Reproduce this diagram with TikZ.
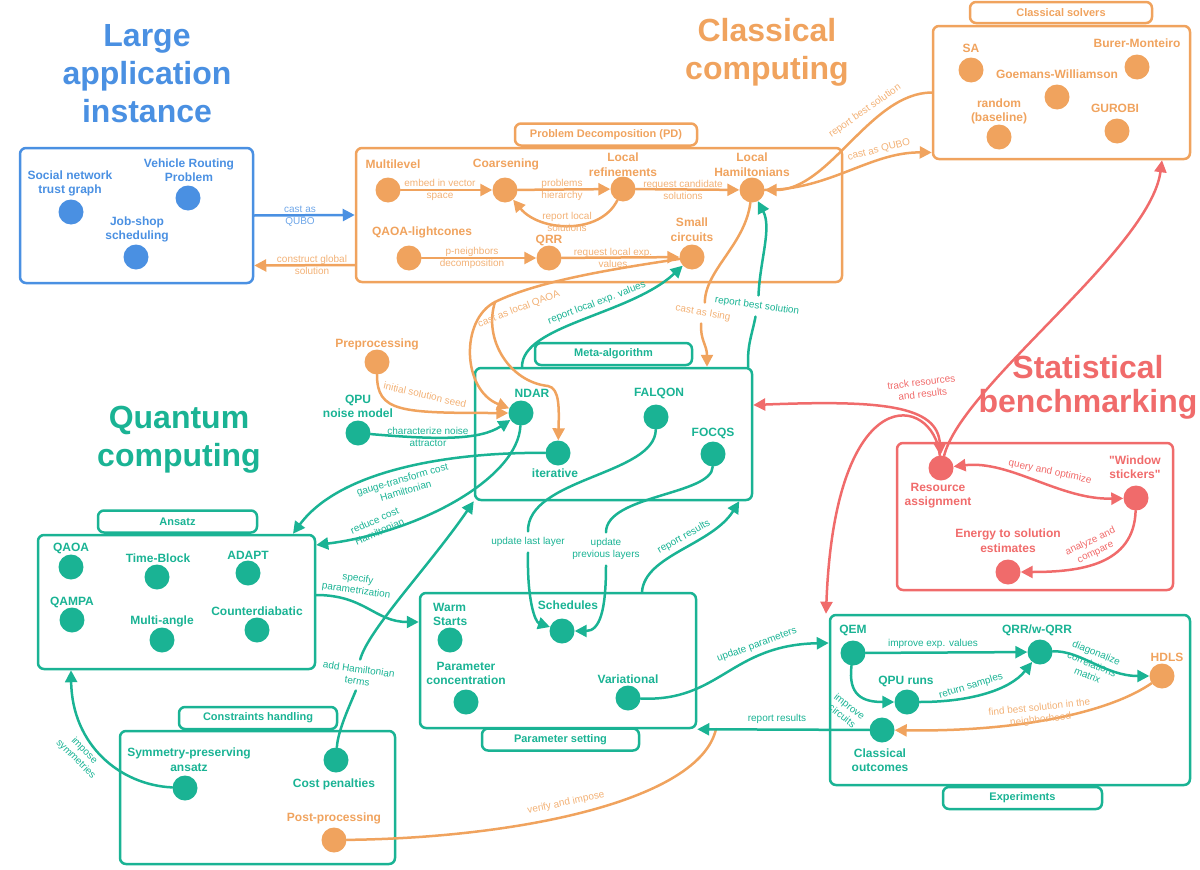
\documentclass[tikz,border=0pt]{standalone}
\usepackage{fontspec}
\setmainfont{Liberation Sans}[Ligatures=TeXOff]
\usepackage{tikz}
\usetikzlibrary{arrows.meta}
\usepackage{xcolor}
\definecolor{app_blue}{HTML}{4A90E2}
\definecolor{cc_orange}{HTML}{F0A35E}
\definecolor{qc_teal}{HTML}{1AB394}
\definecolor{sb_red}{HTML}{F06B6B}

\begin{document}
\begin{tikzpicture}[
    x=1pt, y=-1pt,
    dot/.style={circle, fill=#1, minimum size=25pt, inner sep=0pt},
    dotlbl/.style={text=#1, font=\bfseries\fontsize{12}{14.5}\selectfont, align=center, inner sep=0pt},
    edgelbl/.style={text=#1, font=\fontsize{10}{12}\selectfont, align=center, inner sep=1pt},
    headline/.style={text=#1, font=\bfseries\fontsize{32}{38}\selectfont, align=center},
    area/.style={draw=#1, line width=2.5pt, rounded corners=6pt, inner sep=0pt},
    tab/.style={area=#1, text=#1, font=\bfseries\fontsize{11}{13}\selectfont, minimum height=22pt},
    arr/.style={draw=#1, line width=2.5pt, line cap=round, -{Triangle[length=12pt,width=12pt]}},
    darr/.style={draw=#1, line width=2.5pt, line cap=round, {Triangle[length=12pt,width=12pt]}-{Triangle[length=12pt,width=12pt]}},
    wire/.style={draw=#1, line width=2.5pt, line cap=round},
    lblgap/.style={outer sep=5pt}
]
\useasboundingbox (0,0) rectangle (1200,870);

% boxes
\node[area=app_blue, minimum width=233pt, minimum height=135pt] (app) at (136.5,215.5) {};
\node[area=cc_orange, minimum width=486pt, minimum height=134pt] (pd) at (599,215) {};
\node[tab=cc_orange, minimum width=182pt] (pd-tab) at (606,134.5) {Problem Decomposition (PD)};
\node[area=cc_orange, minimum width=257pt, minimum height=133pt] (cs) at (1061.5,92.5) {};
\node[tab=cc_orange, minimum width=182pt, minimum height=21pt] (cs-tab) at (1061,12.5) {Classical solvers};
\node[area=qc_teal, minimum width=277pt, minimum height=132pt] (meta) at (613.5,434) {};
\node[tab=qc_teal, minimum width=157pt] (meta-tab) at (613.5,354) {Meta-algorithm};
\node[area=qc_teal, minimum width=277pt, minimum height=134pt] (ansatz) at (176.5,602) {};
\node[tab=qc_teal, minimum width=159pt] (ansatz-tab) at (177.5,521.5) {Ansatz};
\node[area=qc_teal, minimum width=276pt, minimum height=135pt] (param) at (558,660.5) {};
\node[tab=qc_teal, minimum width=157pt] (param-tab) at (560.5,739.5) {Parameter setting};
\node[area=qc_teal, minimum width=275pt, minimum height=133pt] (constr) at (257.5,797.5) {};
\node[tab=qc_teal, minimum width=158pt] (constr-tab) at (258,718) {Constraints handling};
\node[area=sb_red, minimum width=276pt, minimum height=147pt] (bench) at (1035,516.5) {};
\node[area=qc_teal, minimum width=360pt, minimum height=170pt] (expt) at (1010,700) {};
\node[tab=qc_teal, minimum width=159pt] (expt-tab) at (1022.5,798) {Experiments};

% titles
\node[headline=app_blue] (t-app) at (147,74) {Large\\application\\instance};
\node[headline=cc_orange] (t-cc) at (767,52) {Classical\\computing};
\node[headline=qc_teal] (t-qc) at (179,440) {Quantum\\computing};
\node[headline=sb_red, font=\bfseries\fontsize{32}{34}\selectfont] (t-sb) at (1088,387) {Statistical\\benchmarking};

% large application instance
\node[dot=app_blue] (social) at (71,212) {};
\node[dotlbl=app_blue] (social-t) at (70,183.5) {Social network\\trust graph};
\node[dot=app_blue] (vrp) at (188,198) {};
\node[dotlbl=app_blue] (vrp-t) at (189,170) {Vehicle Routing\\Problem};
\node[dot=app_blue] (jobshop) at (136,257) {};
\node[dotlbl=app_blue] (jobshop-t) at (137,229.5) {Job-shop\\scheduling};

% problem decomposition
\node[dot=cc_orange] (multilevel) at (388,190) {};
\node[dotlbl=cc_orange] (multilevel-t) at (393,164) {Multilevel};
\node[dot=cc_orange] (coarsening) at (505,190) {};
\node[dotlbl=cc_orange] (coarsening-t) at (506,164) {Coarsening};
\node[dot=cc_orange] (locref) at (623,189) {};
\node[dotlbl=cc_orange] (locref-t) at (623,164.5) {Local\\refinements};
\node[dot=cc_orange] (lochamil) at (752,190) {};
\node[dotlbl=cc_orange] (lochamil-t) at (752,164.5) {Local\\Hamiltonians};
\node[dot=cc_orange] (lightcones) at (409,258) {};
\node[dotlbl=cc_orange] (lightcones-t) at (422,232) {QAOA-lightcones};
\node[dot=cc_orange] (qrr) at (549,258) {};
\node[dotlbl=cc_orange] (qrr-t) at (549,240) {QRR};
\node[dot=cc_orange] (smallcirc) at (692,257) {};
\node[dotlbl=cc_orange] (smallcirc-t) at (692,229.5) {Small\\circuits};

% classical solvers
\node[dot=cc_orange] (sa) at (971,70) {};
\node[dotlbl=cc_orange] (sa-t) at (971,48) {SA};
\node[dot=cc_orange] (burer) at (1137,67) {};
\node[dotlbl=cc_orange] (burer-t) at (1137,43) {Burer-Monteiro};
\node[dot=cc_orange] (goemans) at (1057,97) {};
\node[dotlbl=cc_orange] (goemans-t) at (1057,74) {Goemans-Williamson};
\node[dot=cc_orange] (random) at (999,137) {};
\node[dotlbl=cc_orange] (random-t) at (999,111.5) {random\\(baseline)};
\node[dot=cc_orange] (gurobi) at (1117,131) {};
\node[dotlbl=cc_orange] (gurobi-t) at (1115,108) {GUROBI};

% meta-algorithm
\node[dot=qc_teal] (ndar) at (521,413) {};
\node[dotlbl=qc_teal] (ndar-t) at (532,393) {NDAR};
\node[dot=qc_teal] (iterative) at (558,453) {};
\node[dotlbl=qc_teal] (iterative-t) at (555,473) {iterative};
\node[dot=qc_teal] (falqon) at (656,417) {};
\node[dotlbl=qc_teal] (falqon-t) at (659,393) {FALQON};
\node[dot=qc_teal] (focqs) at (713,454) {};
\node[dotlbl=qc_teal] (focqs-t) at (713,433) {FOCQS};
\node[dot=cc_orange] (prep) at (377,362) {};
\node[dotlbl=cc_orange] (prep-t) at (377,344) {Preprocessing};
\node[dot=qc_teal] (qpunoise) at (358,433) {};
\node[dotlbl=qc_teal] (qpunoise-t) at (358,406.5) {QPU\\noise model};

% ansatz
\node[dot=qc_teal] (qaoa) at (71,567) {};
\node[dotlbl=qc_teal] (qaoa-t) at (71,548) {QAOA};
\node[dot=qc_teal] (timeblock) at (157,577) {};
\node[dotlbl=qc_teal] (timeblock-t) at (158,558) {Time-Block};
\node[dot=qc_teal] (adapt) at (248,573) {};
\node[dotlbl=qc_teal] (adapt-t) at (248,555) {ADAPT};
\node[dot=qc_teal] (qampa) at (72,620) {};
\node[dotlbl=qc_teal] (qampa-t) at (72,602) {QAMPA};
\node[dot=qc_teal] (multiangle) at (162,640) {};
\node[dotlbl=qc_teal] (multiangle-t) at (162,621) {Multi-angle};
\node[dot=qc_teal] (counterdiab) at (257,630) {};
\node[dotlbl=qc_teal] (counterdiab-t) at (257,611) {Counterdiabatic};

% parameter setting
\node[dot=qc_teal] (warm) at (450,640) {};
\node[dotlbl=qc_teal, align=left, anchor=west] (warm-t) at (433,614.5) {Warm\\Starts};
\node[dot=qc_teal] (schedules) at (562,631) {};
\node[dotlbl=qc_teal] (schedules-t) at (568,605) {Schedules};
\node[dot=qc_teal] (paramconc) at (466,702) {};
\node[dotlbl=qc_teal] (paramconc-t) at (466,673.5) {Parameter\\concentration};
\node[dot=qc_teal] (variational) at (628,698) {};
\node[dotlbl=qc_teal] (variational-t) at (628,679) {Variational};

% constraints handling
\node[dot=qc_teal] (sympres) at (185,788) {};
\node[dotlbl=qc_teal] (sympres-t) at (189,759.5) {Symmetry-preserving\\ansatz};
\node[dot=qc_teal] (costpen) at (336,760) {};
\node[dotlbl=qc_teal] (costpen-t) at (334,784) {Cost penalties};
\node[dot=cc_orange] (postproc) at (334,840) {};
\node[dotlbl=cc_orange] (postproc-t) at (334,818) {Post-processing};

% statistical benchmarking
\node[dot=sb_red] (resource) at (941,468) {};
\node[dotlbl=sb_red] (resource-t) at (938,495.5) {Resource\\assignment};
\node[dot=sb_red] (window) at (1136,498) {};
\node[dotlbl=sb_red] (window-t) at (1135,467) {"Window\\stickers"};
\node[dot=sb_red] (energy) at (1008,572) {};
\node[dotlbl=sb_red] (energy-t) at (1008,540.5) {Energy to solution\\estimates};

% experiments
\node[dot=qc_teal] (qem) at (853,653) {};
\node[dotlbl=qc_teal] (qem-t) at (853,630) {QEM};
\node[dot=qc_teal] (qrrw) at (1040,652) {};
\node[dotlbl=qc_teal] (qrrw-t) at (1037,630) {QRR/w-QRR};
\node[dot=qc_teal] (qpuruns) at (907,702) {};
\node[dotlbl=qc_teal] (qpuruns-t) at (906,681) {QPU runs};
\node[dot=cc_orange] (hdls) at (1162,676) {};
\node[dotlbl=cc_orange] (hdls-t) at (1167,657) {HDLS};
\node[dot=qc_teal] (classout) at (882,730) {};
\node[dotlbl=qc_teal] (classout-t) at (880,760) {Classical\\outcomes};

% application <-> decomposition
\draw[arr=app_blue] (app.east) -- (pd.west);
\node[edgelbl=app_blue!80] (l-qubo) at (300,216) {cast as\\QUBO};
\draw[arr=cc_orange] ([yshift=-50pt]pd.west) -- ([yshift=-50pt]app.east);
\node[edgelbl=cc_orange!85] (l-global) at (312,264.5) {construct global\\solution};

% inside decomposition
\draw[arr=cc_orange] (multilevel) -- (coarsening);
\node[edgelbl=cc_orange!85] (l-embed) at (440,190) {embed in vector\\space};
\draw[arr=cc_orange] (coarsening) -- (locref);
\node[edgelbl=cc_orange!85] (l-hier) at (562,190) {problems\\hierarchy};
\draw[arr=cc_orange] (locref) -- (lochamil);
\node[edgelbl=cc_orange!85] (l-cand) at (683,190) {request candidate\\solutions};
\draw[arr=cc_orange] (locref) .. controls (600,235) and (540,232) .. (coarsening);
\node[edgelbl=cc_orange!85] (l-replocal) at (567,222) {report local\\solutions};
\draw[arr=cc_orange] (lightcones) -- (qrr);
\node[edgelbl=cc_orange!85] (l-pneigh) at (472,258) {p-neighbors\\decomposition};
\draw[arr=cc_orange] (qrr) -- (smallcirc);
\node[edgelbl=cc_orange!85] (l-reqlocal) at (613,258) {request local exp.\\values};

% classical solvers <-> local hamiltonians
\draw[arr=cc_orange] (cs.west) .. controls (870,93) and (830,190) .. (lochamil);
\node[edgelbl=cc_orange!85, rotate=35] (l-rbs-cs) at (865,111) {report best solution};
\draw[arr=cc_orange] (lochamil) .. controls (830,190) and (870,152) .. ([yshift=-60pt]cs.west);
\node[edgelbl=cc_orange!85, rotate=14] (l-castqubo) at (879,150) {cast as QUBO};

% decomposition <-> meta-algorithm
\coordinate (qaoa-split) at (495,302);
\draw[wire=cc_orange] (smallcirc) .. controls (620,268) and (540,280) .. (qaoa-split);
\draw[arr=cc_orange] (qaoa-split) .. controls (460,320) and (462,390) .. (ndar);
\draw[arr=cc_orange] (qaoa-split) .. controls (483,340) and (510,382) .. (548,386) .. controls (560,388) and (559,410) .. (iterative);
\node[edgelbl=cc_orange!85, rotate=21] (l-localqaoa) at (519,309) {cast as local QAOA};
\draw[arr=qc_teal] ([xshift=-91.5pt]meta.north) .. controls (522,325) and (630,315) .. (smallcirc);
\node[edgelbl=qc_teal, rotate=21] (l-replocalexp) at (597,303) {report local exp. values};
\node[edgelbl=cc_orange!85, rotate=-10, lblgap] (l-ising) at (703,313) {cast as Ising};
\draw[wire=cc_orange] (lochamil) .. controls (745,245) and (705,270) .. (l-ising.north);
\draw[arr=cc_orange] (l-ising.south) .. controls (700,340) and (707,345) .. ([xshift=93.5pt]meta.north);
\node[edgelbl=qc_teal, rotate=-8, lblgap] (l-rbs) at (757,306) {report best solution};
\draw[wire=qc_teal] ([xshift=-5pt]meta.north east) .. controls (747,345) and (752,335) .. (l-rbs.south);
\draw[arr=qc_teal] (l-rbs.north) .. controls (760,260) and (772,228) .. (lochamil);

% into the meta-algorithm
\draw[arr=cc_orange] (prep) .. controls (377,412) and (400,413) .. (ndar);
\node[edgelbl=cc_orange!85, rotate=-13] (l-seed) at (425,395) {initial solution seed};
\draw[arr=qc_teal] (qpunoise) .. controls (440,440) and (480,440) .. (ndar);
\node[edgelbl=qc_teal] (l-noise) at (428,437) {characterize noise\\attractor};

% meta-algorithm -> ansatz
\draw[arr=qc_teal] (iterative) .. controls (450,452) and (340,470) .. ([xshift=116.5pt]ansatz.north);
\node[edgelbl=qc_teal, rotate=16] (l-gauge) at (404,485) {gauge-transform cost\\Hamiltonian};
\draw[arr=qc_teal] (ndar) .. controls (518,478) and (420,532) .. ([yshift=57pt]ansatz.east);
\node[edgelbl=qc_teal, rotate=24] (l-reduce) at (377,526) {reduce cost\\Hamiltonian};
\draw[arr=qc_teal] ([yshift=7pt]ansatz.east) .. controls (365,595) and (375,622) .. ([yshift=38.5pt]param.west);
\node[edgelbl=qc_teal, rotate=-8] (l-specify) at (357,585) {specify\\parametrization};

% constraints handling
\node[edgelbl=qc_teal, rotate=-8, lblgap] (l-addham) at (358,675) {add Hamiltonian\\terms};
\draw[wire=qc_teal] (costpen) .. controls (338,730) and (350,705) .. (l-addham.south);
\draw[arr=qc_teal] (l-addham.north) .. controls (368,630) and (430,565) .. (meta.south west);
\draw[arr=qc_teal] (sympres) .. controls (120,785) and (72,745) .. ([xshift=-105.5pt]ansatz.south);
\node[edgelbl=qc_teal, rotate=-45] (l-impose) at (80,755) {impose\\symmetries};
\coordinate (pp-join) at (716,729);
\draw[wire=cc_orange] (postproc) .. controls (520,838) and (700,800) .. (pp-join);
\node[edgelbl=cc_orange!85, rotate=12] (l-verify) at (566,803) {verify and impose};

% meta-algorithm <-> parameter setting
\node[edgelbl=qc_teal, lblgap] (l-lastlayer) at (528,542) {update last layer};
\draw[wire=qc_teal] (falqon) .. controls (655,475) and (527,478) .. (l-lastlayer.north);
\draw[arr=qc_teal] (l-lastlayer.south) .. controls (527,600) and (535,622) .. (schedules);
\node[edgelbl=qc_teal, lblgap] (l-prevlayers) at (606,549) {update\\previous layers};
\draw[wire=qc_teal] (focqs) .. controls (712,495) and (606,495) .. (l-prevlayers.north);
\draw[arr=qc_teal] (l-prevlayers.south) .. controls (606,610) and (600,631) .. (schedules);
\draw[arr=qc_teal] ([xshift=84pt]param.north) .. controls (645,555) and (712,545) .. ([xshift=-14pt]meta.south east);
\node[edgelbl=qc_teal, rotate=29] (l-repres1) at (684,537) {report results};

% parameter setting <-> experiments
\draw[arr=qc_teal] (variational) .. controls (720,702) and (730,645) .. ([yshift=57pt]expt.west);
\node[edgelbl=qc_teal, rotate=20] (l-updparam) at (757,645) {update parameters};
\draw[arr=qc_teal] (classout) -- (param.south east);
\node[edgelbl=qc_teal] (l-repres2) at (777,719) {report results};

% experiments
\draw[arr=qc_teal] (qem) -- (qrrw);
\node[edgelbl=qc_teal] (l-impexp) at (933,644) {improve exp. values};
\draw[arr=qc_teal] (qem) .. controls (848,695) and (862,702) .. (qpuruns);
\node[edgelbl=qc_teal, rotate=-38] (l-impcirc) at (846,711) {improve\\circuits};
\draw[arr=qc_teal] (qpuruns) .. controls (970,702) and (1010,690) .. (qrrw);
\node[edgelbl=qc_teal, rotate=17] (l-samples) at (971,686) {return samples};
\draw[arr=qc_teal] (qrrw) .. controls (1080,650) and (1105,676) .. (hdls);
\node[edgelbl=qc_teal, rotate=-22] (l-diag) at (1092,664) {diagonalize\\correlations\\matrix};
\draw[arr=cc_orange] (hdls) .. controls (1110,712) and (1020,732) .. (classout);
\node[edgelbl=cc_orange!85, rotate=6] (l-findbest) at (1040,714) {find best solution in the\\neighborhood};

% statistical benchmarking
\draw[darr=sb_red] (resource) .. controls (1010,460) and (1060,500) .. (window);
\node[edgelbl=sb_red, rotate=-12] (l-query) at (1050,472) {query and optimize};
\draw[arr=sb_red] (window) .. controls (1134,565) and (1080,572) .. (energy);
\node[edgelbl=sb_red, rotate=25] (l-analyze) at (1093,547) {analyze and\\compare};
\draw[darr=sb_red] ([yshift=29pt]meta.east) .. controls (880,400) and (938,405) .. (resource);
\draw[arr=sb_red] (resource) .. controls (934,395) and (835,375) .. ([xshift=-184pt]expt.north);
\draw[arr=sb_red] (resource) .. controls (962,385) and (1150,250) .. ([xshift=100.5pt]cs.south);
\node[edgelbl=sb_red, rotate=7] (l-track) at (922,388) {track resources\\and results};
\end{tikzpicture}
\end{document}
